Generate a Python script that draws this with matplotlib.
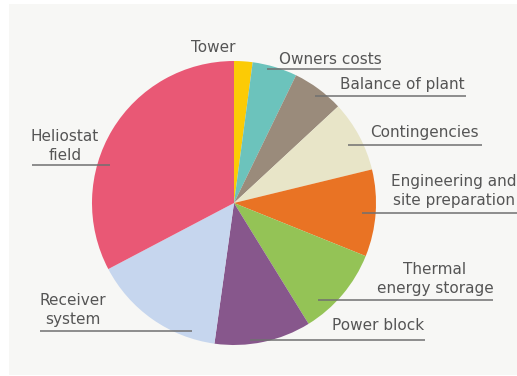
import numpy as np
import matplotlib
matplotlib.use("Agg")
import matplotlib.pyplot as plt
from matplotlib.patches import Rectangle

# cost shares, clockwise from 12 o'clock (%)
labels = ["Tower", "Owners costs", "Balance of plant", "Contingencies",
          "Engineering and\nsite preparation", "Thermal\nenergy storage",
          "Power block", "Receiver\nsystem", "Heliostat\nfield"]
shares = [2.1, 5.1, 5.9, 8.1, 9.9, 10.1, 11.0, 15.1, 32.7]
colors = ["#fccb05", "#6cc3bc", "#9a8b7b", "#e8e5c8", "#e97324",
          "#94c356", "#87578c", "#c6d6ee", "#e95875"]

W, H = 517, 376
fig = plt.figure(figsize=(W / 100, H / 100), dpi=100, facecolor="white")
ax = fig.add_axes([0, 0, 1, 1])

# light panel behind the chart
ax.add_patch(Rectangle((9, 1), W - 9, H - 5, facecolor="#f7f7f5",
                       edgecolor="none", zorder=0))

ax.pie(shares, colors=colors, startangle=90, counterclock=False,
       center=(234, H - 203), radius=142,
       wedgeprops=dict(linewidth=0))

# label text centre (x, y) and underline (x0, x1, y), pixel positions from the top-left
txt = "#555555"
lab_pos = [(213, 48), (330, 60), (402, 84), (424, 133), (454, 191),
           (435, 279), (378, 326), (73, 310), (65, 146)]
line_pos = [None, (267, 381, 69), (315, 466, 96), (348, 482, 145),
            (362, 517, 213), (318, 493, 300), (250, 425, 340),
            (40, 192, 331), (32, 110, 165)]

for lab, (x, y), ln in zip(labels, lab_pos, line_pos):
    ax.text(x, H - y, lab, ha="center", va="center", fontsize=11,
            color=txt, linespacing=1.28, family="DejaVu Sans")
    if ln is not None:
        ax.plot([ln[0], ln[1]], [H - ln[2], H - ln[2]], color="#707070",
                lw=1.1, solid_capstyle="butt")

ax.set_xlim(0, W)
ax.set_ylim(0, H)
ax.set_aspect("equal")
ax.axis("off")

plt.savefig("out.png", dpi=100, facecolor="white")
plt.close()
